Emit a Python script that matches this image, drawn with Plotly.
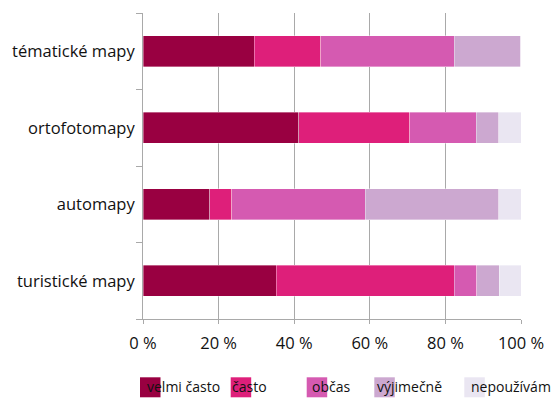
import plotly.graph_objects as go

categories = ["tématické mapy", "ortofotomapy", "automapy", "turistické mapy"]
series_names = ["velmi často", "často", "občas", "výjimečně", "nepoužívám"]
# percentages (per category, top to bottom)
velmi_casto = [29.4, 41.2, 17.6, 35.3]
casto = [17.6, 29.4, 5.9, 47.1]
obcas = [35.3, 17.6, 35.3, 5.9]
vyjimecne = [17.6, 5.9, 35.3, 5.9]
nepouzivam = [0.0, 5.9, 5.9, 5.9]
series_values = [velmi_casto, casto, obcas, vyjimecne, nepouzivam]
colors = ["#990041", "#DE1F7A", "#D55AB1", "#CCA8D0", "#EAE6F2"]
x_tickvals = [0, 20, 40, 60, 80, 100]
x_ticktext = ["0 %", "20 %", "40 %", "60 %", "80 %", "100 %"]

W, H = 558, 398
ML, MR, MT, MB = 143, 37, 13, 79
PW, PH = W - ML - MR, H - MT - MB


def px_x(px):
    return (px - ML) / PW


def px_y(py):
    return (H - MB - py) / PH


fig = go.Figure()
for name, vals, col in zip(series_names, series_values, colors):
    fig.add_trace(go.Bar(
        y=categories, x=vals, name=name, orientation="h",
        marker=dict(color=col, line=dict(color="rgba(255,255,255,0.6)", width=0.6)),
        showlegend=False,
    ))

# legend drawn in the reference's own layout (square with label starting over it)
legend_square_left = [140, 230.7, 306.7, 374.3, 464.3]
legend_text_left = [145, 230, 310, 375, 469]
shapes = []
annotations = []
for name, col, sx, tx in zip(series_names, colors, legend_square_left, legend_text_left):
    shapes.append(dict(type="rect", xref="paper", yref="paper",
                       x0=px_x(sx), x1=px_x(sx + 20.5),
                       y0=px_y(397.3), y1=px_y(377.3),
                       fillcolor=col, line=dict(width=0), layer="below"))
    annotations.append(dict(text=name, xref="paper", yref="paper",
                            x=px_x(tx), y=px_y(386.5), xanchor="left", yanchor="middle",
                            showarrow=False, font=dict(size=14, color="#111111")))

fig.update_layout(
    barmode="stack",
    bargap=0.6,
    width=W, height=H,
    margin=dict(l=ML, r=MR, t=MT, b=MB),
    paper_bgcolor="white", plot_bgcolor="white",
    font=dict(family="Open Sans", size=16.5, color="#111111"),
    showlegend=False,
    shapes=shapes,
    annotations=annotations,
    xaxis=dict(range=[0, 100], tickvals=x_tickvals, ticktext=x_ticktext,
               showgrid=True, gridcolor="#A9A9A9", gridwidth=1,
               showline=True, linecolor="#A9A9A9", linewidth=1,
               ticks="outside", ticklen=4, tickcolor="#A9A9A9",
               ticklabelstandoff=5,
               tickfont=dict(size=16.5), zeroline=False, fixedrange=True,
               automargin=False),
    yaxis=dict(categoryorder="array", categoryarray=categories[::-1],
               showline=True, linecolor="#A9A9A9", linewidth=1,
               ticks="outside", ticklen=6, tickcolor="#A9A9A9",
               tickson="boundaries", showgrid=False, ticklabelstandoff=4,
               tickfont=dict(size=16.5), fixedrange=True, automargin=False),
)

fig.write_html("out.html", config={"displayModeBar": False},
               post_script="document.body.style.margin='0';document.body.style.overflow='hidden';")
